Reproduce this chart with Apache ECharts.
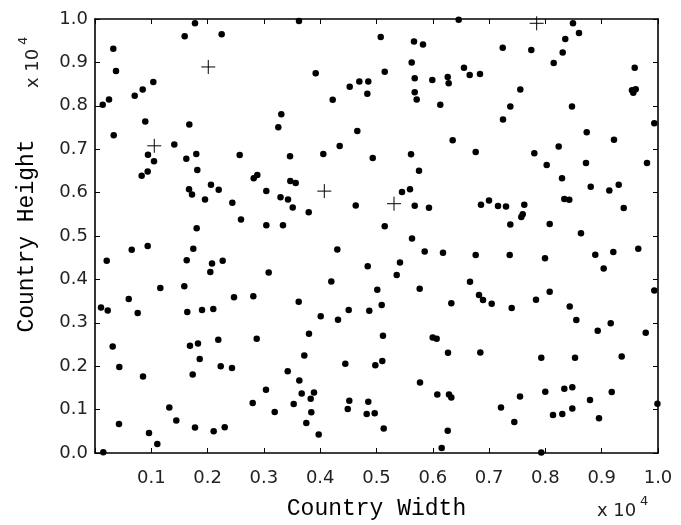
<!DOCTYPE html>
<html><head><meta charset="utf-8">
<script src="https://cdn.jsdelivr.net/npm/echarts@6/dist/echarts.min.js"></script>
<style>html,body{margin:0;padding:0;background:#fff}#c{width:681px;height:525px}</style>
</head><body><div id="c"></div>
<script>
// Country Width / Height values (raw units; axes show x 10^4)
const dotWidth = [
1776,1593,2250,325,373,1036,847,705,249,137,893,1675,3309,3256,332,1409,941,1048,1622,1799,2570,
3623,5075,5666,5826,6460,3920,5146,5625,6554,6655,5679,5991,6265,6282,4524,4695,4854,4837,4222,5679,5714,6133,4659,4346,6353,3464,4055,4933,5613,6762,
8490,8597,8353,8307,7242,7750,8147,6838,9586,7554,9538,9604,9561,7377,8472,7247,9934,8734,9218,7803,8236,8023,8721,9805,
8295,8805,9135,9302,8336,8424,9391,6856,6998,7158,7300,7625,7597,7572,7377,8076,8632,6762,7366,7993,8886,9206,9650,9035,6661,6821,6892,7046,7401,7833,8076,8432,9934,
5755,3469,3565,5453,5595,3295,3428,3512,3796,4631,5679,5932,3339,5146,5631,4304,5856,6181,4844,5417,5359,4197,5014,5767,3618,4506,4872,5092,6329,
829,936,1817,1670,1723,2060,2197,1954,2439,2819,2883,3043,2593,3043,1806,652,936,1746,208,1629,2078,2268,2048,3085,1160,1586,599,2469,2812,107,226,758,1639,1901,2101,
314,432,853,1687,1829,1860,2190,2233,2433,2872,1735,3037,2801,3192,1320,1444,426,959,1776,2108,2304,1107,147,
4009,4316,3801,5115,5998,6069,3718,6270,4446,4979,5103,3423,3629,5773,3671,3890,3831,3529,4517,4854,6080,6288,6329,3842,4489,4826,4968,3753,5128,3973,6265,6158,
8549,9160,8929,9782,6844,7927,8526,9355,7998,8336,8478,7549,8792,9178,7211,8135,8300,8478,8952,7448,9990,7927
];
const dotHeight = [
9901,9604,9650,9313,8803,8551,8375,8231,8146,8025,7636,7567,7803,7506,7323,7110,6872,6721,6780,6888,6865,
9954,9588,9480,9412,9984,8748,8787,9000,8879,8712,8634,8597,8666,8519,8437,8558,8558,8277,8140,8313,8146,8025,7421,7071,7208,6835,6888,6796,6881,6938,
9901,9680,9542,9229,9336,9284,8986,8734,8879,8375,8359,8382,8300,7986,7986,7682,7597,7391,7215,6904,7064,6636,6682,6682,
6332,6133,6048,6178,5851,5835,5645,5721,5819,5691,5682,5721,5499,5439,5263,5279,5064,4561,4561,4485,4570,4629,4707,4249,3943,3638,3524,3439,3341,3531,3714,3375,3746,
6506,6270,6224,6011,6080,5892,5842,5659,5545,5705,5698,5652,5247,5224,4943,4691,4645,4615,4302,4387,4103,3952,3760,3783,3485,3295,3279,3410,3449,
6391,6487,6522,6080,5957,6178,6064,5842,5767,6332,6407,6034,5378,5247,5178,4684,4767,4707,4432,4439,4364,4432,4172,4158,3799,3844,3547,3586,3609,3352,3284,3227,3249,3295,3318,
2455,1984,1762,2471,2524,2167,2609,1998,1961,2632,1808,1458,1151,945,1046,748,670,458,588,503,595,206,16,
3151,3073,2746,2700,2661,2632,2249,2311,2059,2021,2121,1883,1670,1625,1373,1396,1252,1128,1206,1183,1350,1350,1281,938,1014,899,915,693,565,428,510,114,
3066,2991,2815,2769,2318,2197,2197,2226,1412,1481,1517,1304,1220,1403,1046,876,899,1023,801,716,1137,10
];
const plusWidth = [2012,1053,7845,4073,5311];
const plusHeight = [8895,7078,9901,6034,5744];
const xTickLabels = ['','0.1','0.2','0.3','0.4','0.5','0.6','0.7','0.8','0.9','1.0'];
const yTickLabels = ['0.0','0.1','0.2','0.3','0.4','0.5','0.6','0.7','0.8','0.9','1.0'];
const xTitle = 'Country Width';
const yTitle = 'Country Height';
const scaleBase = 'x 10';
const scaleExp = '4';

const chart = echarts.init(document.getElementById('c'), null, {renderer:'canvas'});
const tickFont = 'DejaVu Sans';
const titleFont = 'Liberation Mono';
const axisLineStyle = {color:'#000', width:1.6};
const base = {
  type:'value', min:0, max:10000, interval:1000,
  splitLine:{show:false},
  axisLine:{show:true, onZero:false, lineStyle:axisLineStyle},
  axisTick:{show:true, inside:true, length:5, lineStyle:{color:'#000', width:1}}
};
const labelStyle = {fontFamily:tickFont, fontSize:18, color:'#222', showMinLabel:true, showMaxLabel:true};
const option = {
  backgroundColor:'#fff',
  animation:false,
  grid:{left:95, top:19, width:563, height:437},
  xAxis:[
    Object.assign({}, base, {position:'bottom',
      axisLabel:Object.assign({}, labelStyle, {margin:16, formatter:v=>xTickLabels[Math.round(v/1000)]}),
      name:xTitle, nameLocation:'middle', nameGap:44,
      nameTextStyle:{fontFamily:titleFont, fontSize:23, color:'#000'}}),
    Object.assign({}, base, {position:'top', axisLabel:{show:false}})
  ],
  yAxis:[
    Object.assign({}, base, {position:'left',
      axisLabel:Object.assign({}, labelStyle, {margin:7, formatter:v=>yTickLabels[Math.round(v/1000)]}),
      name:yTitle, nameLocation:'middle', nameGap:57,
      nameTextStyle:{fontFamily:titleFont, fontSize:23, color:'#000'}}),
    Object.assign({}, base, {position:'right', axisLabel:{show:false}})
  ],
  series:[
    {type:'scatter', xAxisIndex:0, yAxisIndex:0, symbol:'circle', symbolSize:6.5,
     itemStyle:{color:'#000', opacity:1},
     data:dotWidth.map((x,i)=>[x, dotHeight[i]])},
    {type:'scatter', xAxisIndex:0, yAxisIndex:0, symbol:'path://M5,0L5,10M0,5L10,5', symbolSize:14,
     itemStyle:{color:'none', borderColor:'#000', borderWidth:1, opacity:1},
     data:plusWidth.map((x,i)=>[x, plusHeight[i]])}
  ],
  graphic:[
    {type:'group', x:597, y:511, children:[
      {type:'text', x:0, y:0, style:{text:scaleBase, fontFamily:tickFont, fontSize:18, fill:'#222', verticalAlign:'middle', align:'left'}},
      {type:'text', x:43, y:-9, style:{text:scaleExp, fontFamily:tickFont, fontSize:13, fill:'#222', verticalAlign:'middle', align:'left'}}
    ]},
    {type:'group', x:33, y:88, rotation:Math.PI/2, children:[
      {type:'text', x:0, y:0, style:{text:scaleBase, fontFamily:tickFont, fontSize:18, fill:'#222', verticalAlign:'middle', align:'left'}},
      {type:'text', x:43, y:-9, style:{text:scaleExp, fontFamily:tickFont, fontSize:13, fill:'#222', verticalAlign:'middle', align:'left'}}
    ]}
  ]
};
chart.setOption(option);
</script>
</body></html>
